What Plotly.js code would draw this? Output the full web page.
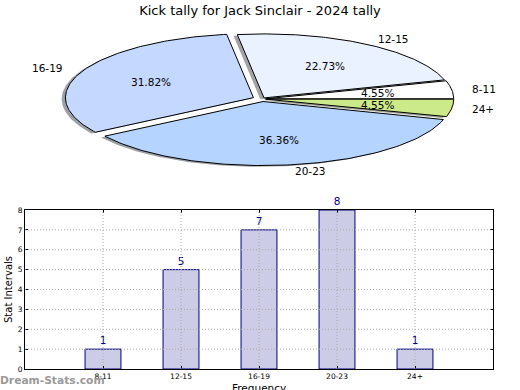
<!DOCTYPE html>
<html>
<head>
<meta charset="utf-8">
<script src="https://cdn.plot.ly/plotly-3.0.1.min.js"></script>
<style>html,body{margin:0;padding:0;background:#fff;}#chart{width:520px;height:390px;}</style>
</head>
<body>
<div id="chart"></div>
<script>
// ---- data ----
const categories = ['8-11', '12-15', '16-19', '20-23', '24+'];
const values = [1, 5, 7, 8, 1];
const pieColors = ['#ffffff', '#eaf1ff', '#c5d8ff', '#b5d4ff', '#cdea8a'];
const explode = [0.02, 0.02, 0.05, 0.04, 0.02];
const yTicks = [0, 1, 2, 3, 4, 5, 6, 7, 8];
const chartTitle = 'Kick tally for Jack Sinclair - 2024 tally';
const xTitle = 'Frequency';
const yTitle = 'Stat Intervals';

// ---- layout geometry ----
const W = 520, H = 390, MB = 20;
const PH = H - MB; // plot-area height
const cx = 262, cy = 99, ra = 188, rb = 64;
const FONT = 'DejaVu Sans, Liberation Sans, sans-serif';

const total = values.reduce((s, v) => s + v, 0);
const shadowTraces = [], wedgeTraces = [], annotations = [];
let start = 0;
values.forEach((v, i) => {
  const span = v / total * 360;
  const t1 = start, t2 = start + span;
  const mid = (t1 + t2) / 2 * Math.PI / 180;
  const dx = explode[i] * Math.cos(mid), dy = explode[i] * Math.sin(mid);
  const xs = [dx], ys = [dy];
  const N = 120;
  for (let k = 0; k <= N; k++) {
    const t = (t1 + (t2 - t1) * k / N) * Math.PI / 180;
    xs.push(dx + Math.cos(t));
    ys.push(dy + Math.sin(t));
  }
  xs.push(dx); ys.push(dy);
  const hex = pieColors[i];
  const r = Math.round(parseInt(hex.substr(1, 2), 16) * 0.3);
  const g = Math.round(parseInt(hex.substr(3, 2), 16) * 0.3);
  const b = Math.round(parseInt(hex.substr(5, 2), 16) * 0.3);
  shadowTraces.push({
    type: 'scatter', mode: 'lines', x: xs.map(x => x - 0.02), y: ys.map(y => y - 0.02),
    xaxis: 'x2', yaxis: 'y2', fill: 'toself',
    fillcolor: `rgba(${r},${g},${b},0.5)`, line: {width: 0, color: `rgba(${r},${g},${b},0.5)`},
    hoverinfo: 'skip', showlegend: false
  });
  wedgeTraces.push({
    type: 'scatter', mode: 'lines', x: xs, y: ys, xaxis: 'x2', yaxis: 'y2',
    fill: 'toself', fillcolor: pieColors[i], line: {color: '#000000', width: 1},
    name: categories[i], hoverinfo: 'name', showlegend: false
  });
  const lx = (explode[i] + 1.1) * Math.cos(mid), ly = (explode[i] + 1.1) * Math.sin(mid);
  annotations.push({
    xref: 'x2', yref: 'y2', x: lx, y: ly, text: categories[i], showarrow: false,
    xanchor: lx > 0 ? 'left' : 'right', yanchor: 'middle',
    font: {family: FONT, size: 10.5, color: '#000'}
  });
  const px = (explode[i] + 0.6) * Math.cos(mid), py = (explode[i] + 0.6) * Math.sin(mid);
  annotations.push({
    xref: 'x2', yref: 'y2', x: px, y: py, text: (v / total * 100).toFixed(2) + '%', showarrow: false,
    xanchor: 'center', yanchor: 'middle',
    font: {family: FONT, size: 10.5, color: '#000'}
  });
  start = t2;
});

// ---- bar chart ----
const xIdx = categories.map((c, i) => i);
const barTrace = {
  type: 'bar', x: xIdx, y: values, width: 0.46,
  marker: {color: '#ccccE6', line: {color: '#000080', width: 1}},
  text: values.map(String), textposition: 'outside', cliponaxis: false,
  textfont: {family: FONT, size: 10.5, color: '#000080'},
  hoverinfo: 'x+y', showlegend: false, xaxis: 'x', yaxis: 'y'
};

// dotted grid drawn above the bars
const shapes = [];
yTicks.slice(1, -1).forEach(t => shapes.push({
  type: 'line', xref: 'x', yref: 'y', x0: -1, x1: categories.length, y0: t, y1: t,
  layer: 'above', line: {color: '#aaaaaa', width: 1, dash: '1px,2px'}
}));
xIdx.forEach(t => shapes.push({
  type: 'line', xref: 'x', yref: 'y', x0: t, x1: t, y0: yTicks[0], y1: yTicks[yTicks.length - 1],
  layer: 'above', line: {color: '#aaaaaa', width: 1, dash: '1px,2px'}
}));

// x-axis title (placed low, partly cut by the image edge as in the reference)
annotations.push({
  xref: 'x', yref: 'paper', x: (categories.length - 1) / 2, y: (PH - 388) / PH,
  xanchor: 'center', yanchor: 'middle', text: xTitle, showarrow: false,
  font: {family: FONT, size: 10.5, color: '#000'}
});

annotations.push({
  xref: 'paper', yref: 'paper', x: 0, y: (PH - 380) / PH, xanchor: 'left', yanchor: 'middle', xshift: -2,
  text: '<b>Dream-Stats.com</b>', showarrow: false,
  font: {family: FONT, size: 10.7, color: '#9a9a9a'}
});

const layout = {
  width: W, height: H,
  margin: {l: 0, r: 0, t: 0, b: MB},
  paper_bgcolor: '#ffffff', plot_bgcolor: 'rgba(0,0,0,0)',
  font: {family: FONT, color: '#000'},
  title: {text: chartTitle, x: 0.5, xanchor: 'center', y: 1 - 10 / H, yanchor: 'middle',
          font: {family: FONT, size: 13, color: '#000'}},
  showlegend: false,
  xaxis: {
    domain: [25 / W, 493 / W], range: [-1, categories.length], anchor: 'y',
    tickmode: 'array', tickvals: xIdx, ticktext: categories,
    tickfont: {family: FONT, size: 7.5, color: '#000'},
    ticks: 'inside', ticklen: 3, tickcolor: '#000', showgrid: false, zeroline: false,
    showline: true, linecolor: '#000', linewidth: 1, mirror: 'ticks',
    fixedrange: true
  },
  yaxis: {
    domain: [(PH - 369) / PH, (PH - 210) / PH], range: [yTicks[0], yTicks[yTicks.length - 1]], anchor: 'x',
    tickmode: 'array', tickvals: yTicks,
    tickfont: {family: FONT, size: 7.5, color: '#000'},
    ticks: 'inside', ticklen: 3, tickcolor: '#000', showgrid: false, zeroline: false,
    showline: true, linecolor: '#000', linewidth: 1, mirror: 'ticks',
    title: {text: yTitle, font: {family: FONT, size: 10, color: '#000'}, standoff: 3},
    fixedrange: true
  },
  xaxis2: {domain: [0, 1], range: [-cx / ra, (W - cx) / ra], anchor: 'y2', visible: false, fixedrange: true},
  yaxis2: {domain: [0, 1], range: [(cy - PH) / rb, cy / rb], anchor: 'x2', visible: false, fixedrange: true},
  shapes: shapes,
  annotations: annotations
};

Plotly.newPlot('chart', [barTrace].concat(shadowTraces, wedgeTraces), layout, {displayModeBar: false, staticPlot: true});
</script>
</body>
</html>
